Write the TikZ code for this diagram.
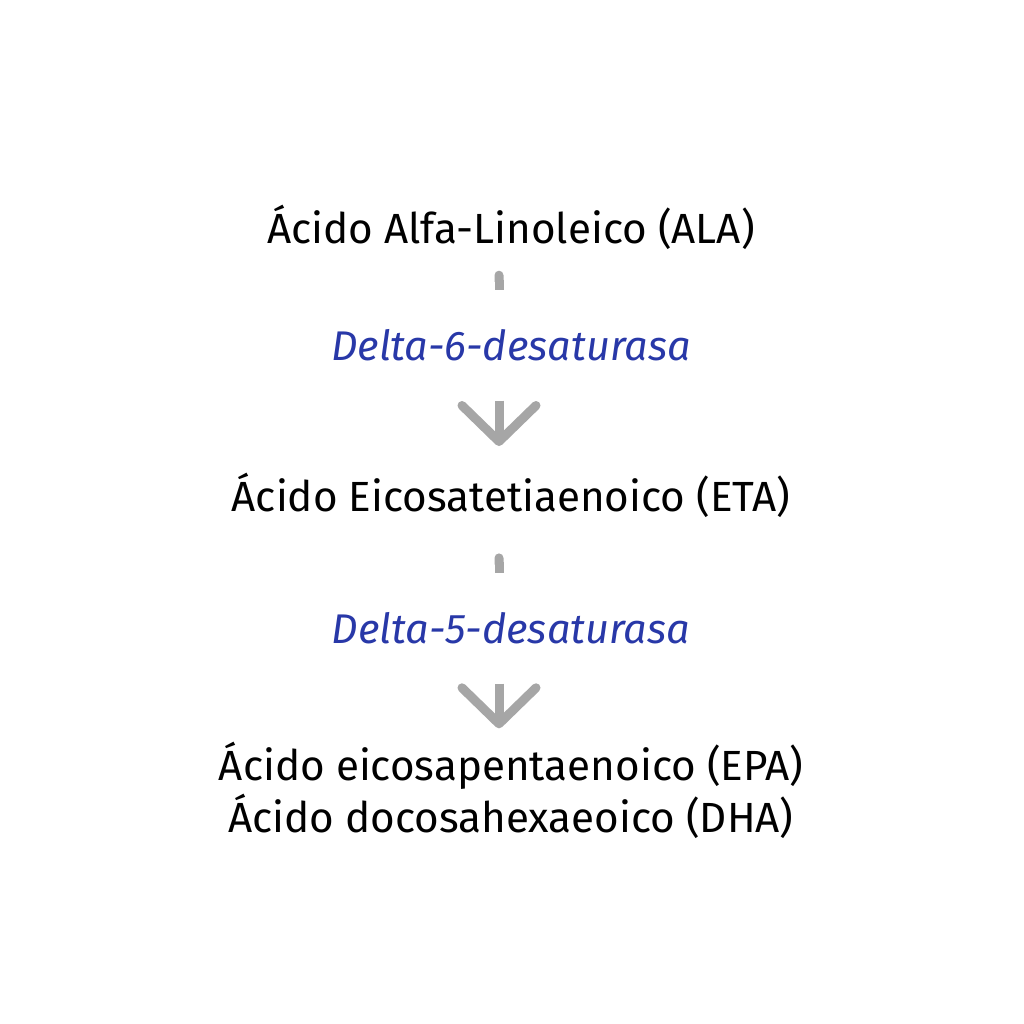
\documentclass[tikz,border=0pt]{standalone}
\usepackage{fontspec}
\setmainfont{Fira Sans}
\usetikzlibrary{arrows.meta}

\definecolor{gris}{RGB}{166,166,166}
\definecolor{azul}{RGB}{40,56,168}

\tikzset{
  acido/.style = {anchor=base, inner sep=0pt, text height=0.30cm, text depth=0pt,
    font=\fontsize{12.0}{15}\selectfont},
  enzima/.style = {anchor=base, inner sep=0pt, text height=0.69cm, text depth=0.40cm,
    fill=white, text=azul, font=\fontsize{11.8}{14}\selectfont\itshape},
  tallo/.style = {draw=gris, line width=0.09cm, {Round Cap[]}-},
  flecha/.style = {draw=gris, line width=0.09cm, -{Straight Barb[length=3.6mm, width=7.4mm, round]}}
}

\begin{document}
\begin{tikzpicture}
\useasboundingbox[fill=white] (0,0) rectangle (10.24,-10.24);
\coordinate (eje) at (4.99,0);

\path (5.11,-2.43) node[acido] (ala) {Ácido Alfa-Linoleico (ALA)};
\path (5.11,-3.60) node[enzima] (d6) {Delta-6-desaturasa};
\path (5.11,-5.117) node[acido] (eta) {Ácido Eicosatetiaenoico (ETA)};
\path (5.11,-6.43) node[enzima] (d5) {Delta-5-desaturasa};
\path (5.11,-7.80) node[acido] (epa) {Ácido eicosapentaenoico (EPA)};
\path (5.11,-8.327) node[acido] (dha) {Ácido docosahexaeoico (DHA)};

\draw[tallo, shorten <=0.27cm] (ala.south -| eje) -- (d6.north -| eje);
\draw[flecha, shorten >=0.35cm] (d6.south -| eje) -- (eta.north -| eje);
\draw[tallo, shorten <=0.41cm] (eta.south -| eje) -- (d5.north -| eje);
\draw[flecha, shorten >=0.21cm] (d5.south -| eje) -- (epa.north -| eje);
\end{tikzpicture}
\end{document}
